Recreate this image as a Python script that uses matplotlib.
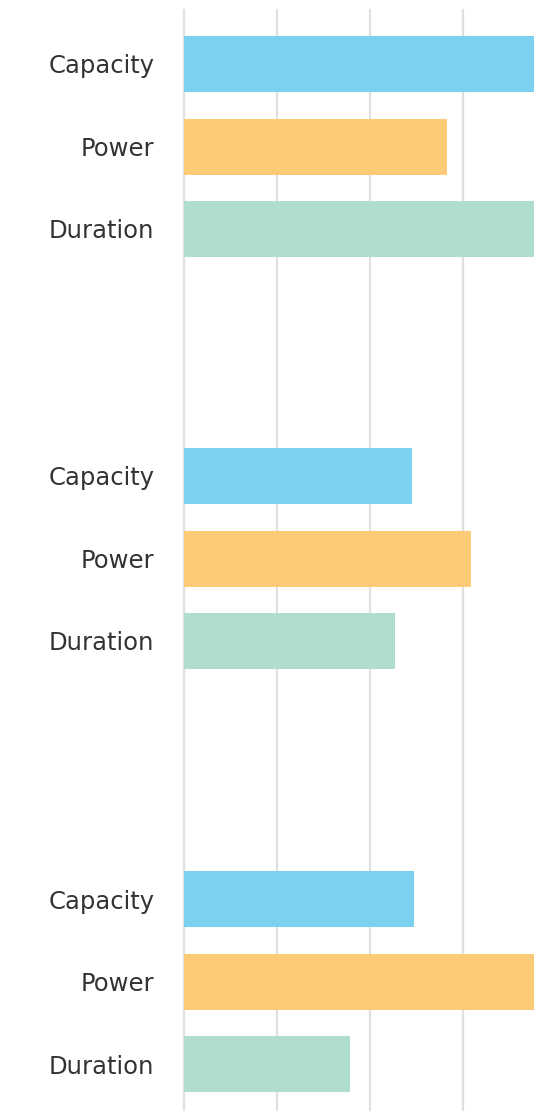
import matplotlib
matplotlib.use("Agg")
import matplotlib.pyplot as plt

# Data
categories = ["Capacity", "Power", "Duration"]
group1 = [100, 70.8, 100]
group2 = [61.3, 77.2, 56.8]
group3 = [62.0, 100, 44.7]
groups = [group1, group2, group3]
colors = ["#7DD1F0", "#FDCB78", "#AFDDCF"]
grid_ticks = [0, 25, 50, 75, 100]

W, H = 534, 1111
fig = plt.figure(figsize=(W / 100, H / 100), dpi=100)
ax_left = 183.5 / W
ax = fig.add_axes([ax_left, 0, 1 - ax_left, (H - 10) / H])

# layout (pixel-like units inside axes, top = 10)
group_starts = [54, 466, 889]
step = 82.5
bar_h = 56

yticks, ylabels = [], []
for g, vals in enumerate(groups):
    for i, (cat, v) in enumerate(zip(categories, vals)):
        y = group_starts[g] + i * step
        ax.barh(y, v, height=bar_h, color=colors[i], zorder=3)
        yticks.append(y)
        ylabels.append(cat)

ax.set_xticks(grid_ticks)
ax.set_ylim(H - 10, 0)
ax.set_xlim(0, (W - 183.5) / 93 * 25)
ax.xaxis.grid(True, color="#e0e0e0", linewidth=1.6, zorder=0)
for ln in ax.get_xgridlines():
    ln.set_clip_on(False)
ax.set_axisbelow(True)
ax.tick_params(axis="x", length=0, labelbottom=False)
ax.set_yticks(yticks)
ax.set_yticklabels(ylabels, fontsize=17.5, color="#333333", family=["DejaVu Sans"])
ax.tick_params(axis="y", length=0, pad=21)
for s in ax.spines.values():
    s.set_visible(False)

fig.savefig("out.png", dpi=100, facecolor="white")
